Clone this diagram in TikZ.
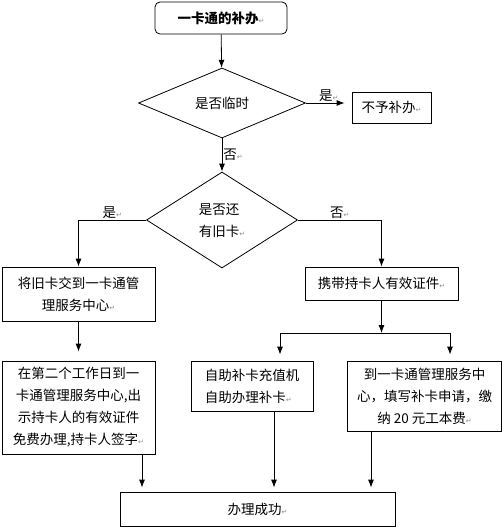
\documentclass[tikz,border=0pt]{standalone}
\usepackage{fontspec}
\setmainfont{Noto Sans CJK SC}
\newfontfamily\markfont{DejaVu Sans}
\usepackage{xcolor}
\definecolor{markgray}{gray}{0.55}
\usetikzlibrary{shapes.geometric,arrows.meta,positioning,calc}
\newcommand{\retmark}{{\markfont\fontsize{7}{7}\selectfont\color{markgray}↵}}

\begin{document}
\begin{tikzpicture}[
  x=1pt,y=-1pt,
  box/.style={rectangle,draw,line width=0.8pt,inner sep=2pt,align=center,
              font=\fontsize{13.5}{22}\selectfont},
  startbox/.style={box,rounded corners=5pt},
  decision/.style={diamond,draw,line width=0.8pt,inner sep=0pt,align=left,
                   font=\fontsize{13.5}{22}\selectfont},
  arrow/.style={-{Latex[length=8pt,width=6pt]},line width=0.8pt},
  label/.style={font=\fontsize{13.5}{16}\selectfont,inner sep=1pt},
]
  \useasboundingbox (0,0) rectangle (502,527);

  \node[startbox,minimum width=132,minimum height=32] (start) at (221,18)
    {\textbf{一卡通的补办}\retmark};
  \node[decision,minimum width=167,minimum height=70] (tmp) at (222,103)
    {是否临时};
  \node[box,minimum width=79,minimum height=31] (refuse) at (391.5,107.5)
    {不予补办\retmark};
  \node[decision,minimum width=151,minimum height=96] (old) at (222,220)
    {是否还\\有旧卡\retmark};

  \node[box,minimum width=153,minimum height=54] (give) at (78.5,294)
    {将旧卡交到一卡通管\\理服务中心\retmark};
  \node[box,minimum width=153,minimum height=33] (bring) at (381.5,283.5)
    {携带持卡人有效证件\retmark};
  \node[box,minimum width=153,minimum height=93] (second) at (78.5,407.5)
    {在第二个工作日到一\\卡通管理服务中心,出\\示持卡人的有效证件\\免费办理,持卡人签字\retmark};
  \node[box,align=left,minimum width=122,minimum height=50] (self) at (252,386)
    {自助补卡充值机\\自助办理补卡\retmark};
  \node[box,minimum width=154,minimum height=70] (office) at (424.5,396)
    {到一卡通管理服务中\\心，填写补卡申请，缴\\纳 20 元工本费\retmark};
  \node[box,minimum width=275,minimum height=34] (done) at (257.5,509)
    {办理成功\retmark};

  % branch point below the ID box
  \coordinate (split)  at (381.5,333);
  \coordinate (splitL) at (280,333);
  \coordinate (splitR) at (450,333);

  \draw[arrow] (start) -- (tmp);
  \draw[arrow,shorten >=7pt] (tmp.east) -- (tmp.east -| refuse.west)
    node[midway,above,label] {是\retmark};
  \draw[arrow] (tmp.south) -- (old.north)
    node[midway,right,label] {否\retmark};
  \draw[arrow] (old.west) -| (give.north)
    node[pos=0.25,above,label] {是\retmark};
  \draw[arrow] (old.east) -| (bring.north)
    node[pos=0.25,above,label] {否\retmark};
  \draw[arrow,shorten >=9pt] (give) -- (second);

  \draw[arrow] (bring) -- (split);
  \draw[line width=0.8pt] (splitL) -- (splitR);
  \draw[arrow,shorten >=6pt] (splitL) -- (splitL |- self.north);
  \draw[arrow,shorten >=6pt] (splitR) -- (splitR |- office.north);

  \draw[arrow,shorten >=4pt] ([xshift=63.5pt]second.south)
    -- ([xshift=63.5pt]second.south |- done.north);
  \draw[arrow,shorten >=4pt] ([xshift=22pt]self.south)
    -- ([xshift=22pt]self.south |- done.north);
  \draw[arrow,shorten >=4pt] ([xshift=-53.5pt]office.south)
    -- ([xshift=-53.5pt]office.south |- done.north);
\end{tikzpicture}
\end{document}
